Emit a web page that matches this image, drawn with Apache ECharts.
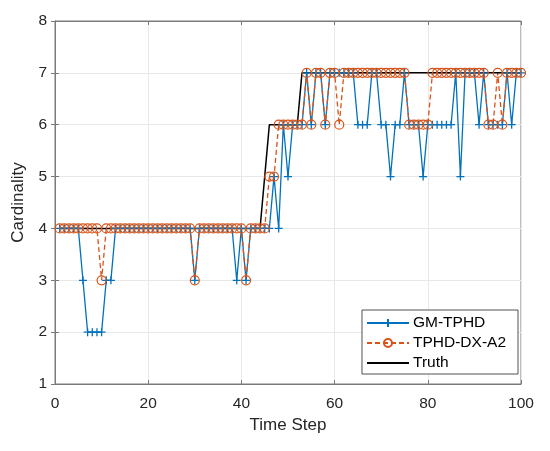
<!DOCTYPE html>
<html>
<head>
<meta charset="utf-8">
<script src="https://cdn.jsdelivr.net/npm/echarts@6/dist/echarts.min.js"></script>
<style>
  html, body { margin: 0; padding: 0; background: #fff; }
  #chart { width: 550px; height: 451px; }
</style>
</head>
<body>
<div id="chart"></div>
<script>
// time steps 1..100
var steps = [];
for (var i = 1; i <= 100; i++) steps.push(i);

// GM-TPHD estimated cardinality
var gmTphd = [
  4, 4, 4, 4, 4, 3, 2, 2, 2, 2,
  3, 3, 4, 4, 4, 4, 4, 4, 4, 4,
  4, 4, 4, 4, 4, 4, 4, 4, 4, 3,
  4, 4, 4, 4, 4, 4, 4, 4, 3, 4,
  3, 4, 4, 4, 4, 4, 5, 4, 6, 5,
  6, 6, 6, 7, 6, 7, 7, 6, 7, 7,
  7, 7, 7, 7, 6, 6, 6, 7, 7, 6,
  6, 5, 6, 6, 7, 6, 6, 6, 5, 6,
  6, 6, 6, 6, 6, 7, 5, 7, 7, 7,
  6, 7, 6, 6, 6, 6, 7, 6, 7, 7
];

// TPHD-DX-A2 estimated cardinality
var tphdDx = [
  4, 4, 4, 4, 4, 4, 4, 4, 4, 3,
  4, 4, 4, 4, 4, 4, 4, 4, 4, 4,
  4, 4, 4, 4, 4, 4, 4, 4, 4, 3,
  4, 4, 4, 4, 4, 4, 4, 4, 4, 4,
  3, 4, 4, 4, 4, 5, 5, 6, 6, 6,
  6, 6, 6, 7, 6, 7, 7, 6, 7, 7,
  6, 7, 7, 7, 7, 7, 7, 7, 7, 7,
  7, 7, 7, 7, 7, 6, 6, 6, 6, 6,
  7, 7, 7, 7, 7, 7, 7, 7, 7, 7,
  7, 7, 6, 6, 7, 6, 7, 7, 7, 7
];

// true cardinality
var truth = [
  4, 4, 4, 4, 4, 4, 4, 4, 4, 4,
  4, 4, 4, 4, 4, 4, 4, 4, 4, 4,
  4, 4, 4, 4, 4, 4, 4, 4, 4, 4,
  4, 4, 4, 4, 4, 4, 4, 4, 4, 4,
  4, 4, 4, 4, 5, 6, 6, 6, 6, 6,
  6, 6, 7, 7, 7, 7, 7, 7, 7, 7,
  7, 7, 7, 7, 7, 7, 7, 7, 7, 7,
  7, 7, 7, 7, 7, 7, 7, 7, 7, 7,
  7, 7, 7, 7, 7, 7, 7, 7, 7, 7,
  7, 7, 7, 7, 7, 7, 7, 7, 7, 7
];

var seriesNames = ['GM-TPHD', 'TPHD-DX-A2', 'Truth'];

function pairs(vals) {
  return steps.map(function (s, k) { return [s, vals[k]]; });
}

var font = 'Liberation Sans, Arial, sans-serif';
var plus = 'path://M0,5 L10,5 M5,0 L5,10';
var axisGray = '#7a7a7a';

var option = {
  backgroundColor: '#fff',
  animation: false,
  textStyle: { fontFamily: font },
  grid: {
    left: 55, right: 29, top: 21, bottom: 67,
    show: true, borderColor: axisGray, borderWidth: 1
  },
  legend: {
    data: [
      { name: seriesNames[0] },
      { name: seriesNames[1] },
      { name: seriesNames[2], itemStyle: { opacity: 0 } }
    ],
    orient: 'vertical',
    right: 32, top: 310,
    backgroundColor: '#fff',
    borderColor: '#262626', borderWidth: 0.8, borderRadius: 0,
    padding: [5, 12, 3, 4],
    itemGap: 4,
    itemWidth: 42, itemHeight: 10,
    textStyle: { fontSize: 15.5, color: '#000', fontFamily: font, padding: [0, 0, 0, -1] }
  },
  xAxis: [{
    type: 'value', min: 0, max: 100, interval: 20,
    name: 'Time Step', nameLocation: 'middle', nameGap: 33,
    nameTextStyle: { fontSize: 17, color: '#262626' },
    axisLine: { show: true, lineStyle: { color: axisGray } },
    axisTick: { show: true, inside: true, length: 4, lineStyle: { color: axisGray } },
    axisLabel: { fontSize: 15.5, color: '#262626', margin: 12 },
    splitLine: { show: true, lineStyle: { color: '#e8e8e8' } }
  }, {
    type: 'value', position: 'top', min: 0, max: 100, interval: 20,
    axisLine: { show: true, lineStyle: { color: axisGray } },
    axisTick: { show: true, inside: true, length: 4, lineStyle: { color: axisGray } },
    axisLabel: { show: false },
    splitLine: { show: false }
  }],
  yAxis: [{
    type: 'value', min: 1, max: 8, interval: 1,
    name: 'Cardinality', nameLocation: 'middle', nameGap: 28,
    nameTextStyle: { fontSize: 17, color: '#262626' },
    axisLine: { show: true, lineStyle: { color: axisGray } },
    axisTick: { show: true, inside: true, length: 4, lineStyle: { color: axisGray } },
    axisLabel: { fontSize: 15.5, color: '#262626', margin: 8 },
    splitLine: { show: true, lineStyle: { color: '#e8e8e8' } }
  }, {
    type: 'value', position: 'right', min: 1, max: 8, interval: 1,
    axisLine: { show: true, lineStyle: { color: axisGray } },
    axisTick: { show: true, inside: true, length: 4, lineStyle: { color: axisGray } },
    axisLabel: { show: false },
    splitLine: { show: false }
  }],
  series: [
    {
      name: seriesNames[0], type: 'line',
      data: pairs(gmTphd),
      showAllSymbol: true,
      symbol: plus, symbolSize: 8,
      itemStyle: { color: '#0072BD', borderColor: '#0072BD', borderWidth: 1.3 },
      lineStyle: { color: '#0072BD', width: 1.3 }
    },
    {
      name: seriesNames[1], type: 'line',
      data: pairs(tphdDx),
      showAllSymbol: true,
      symbol: 'circle', symbolSize: 9,
      itemStyle: { color: 'rgba(0,0,0,0)', borderColor: '#D95319', borderWidth: 1.2 },
      lineStyle: { color: '#D95319', width: 1.3, type: [5, 3] }
    },
    {
      name: seriesNames[2], type: 'line',
      data: pairs(truth),
      symbol: 'none',
      itemStyle: { color: '#000' },
      lineStyle: { color: '#000', width: 1.5 }
    }
  ]
};

var myChart = echarts.init(document.getElementById('chart'));
myChart.setOption(option);
</script>
</body>
</html>
